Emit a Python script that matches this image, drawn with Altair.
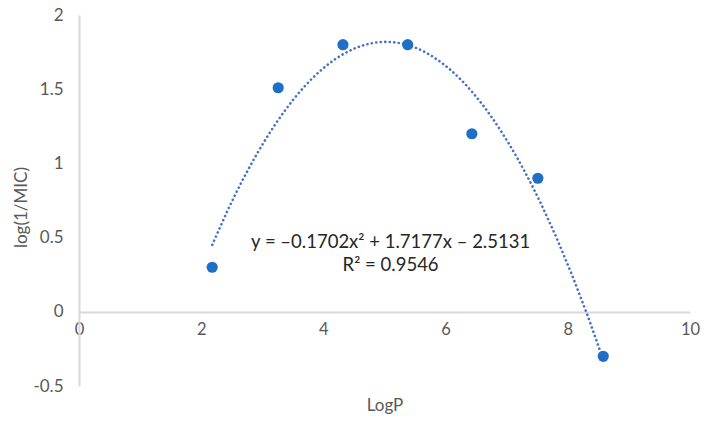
import altair as alt
import pandas as pd

logp = [2.18, 3.26, 4.32, 5.38, 6.43, 7.51, 8.58]
log_inv_mic = [0.30, 1.51, 1.80, 1.80, 1.20, 0.90, -0.30]

eq_lines = ["y = –0.1702x² + 1.7177x – 2.5131", "R² = 0.9546"]
eq_x = [5.1, 5.1]
eq_y = [0.47, 0.315]

df = pd.DataFrame({"LogP": logp, "val": log_inv_mic})
eq_df = pd.DataFrame({"t": eq_lines, "x": eq_x, "y": eq_y})

FONT = "Lato"
xs = alt.Scale(domain=[0, 10], nice=False)
ys = alt.Scale(domain=[-0.5, 2], nice=False)

base = alt.Chart(df)

points = base.mark_circle(size=125, opacity=1, color="#1f6fc6").encode(
    x=alt.X("LogP:Q", scale=xs,
            axis=alt.Axis(title="LogP", values=[0, 2, 4, 6, 8, 10], offset=-74,
                          ticks=False, grid=False, domainColor="#d9d9d9", domainWidth=2,
                          labelColor="#595959", labelFontSize=16.5, labelFont=FONT,
                          labelPadding=9, labelFlush=False, titleFont=FONT, titleFontSize=17,
                          titleFontWeight="normal", titleColor="#595959",
                          titlePadding=60, format="~g")),
    y=alt.Y("val:Q", scale=ys,
            axis=alt.Axis(title="log(1/MIC)", values=[-0.5, 0, 0.5, 1, 1.5, 2],
                          ticks=False, grid=False, domainColor="#d9d9d9", domainWidth=2,
                          labelColor="#595959", labelFontSize=17, labelFont=FONT,
                          labelPadding=16, labelFlush=False, titleFont=FONT, titleFontSize=17,
                          titleFontWeight="normal", titleColor="#595959",
                          titlePadding=2, titleY=192, format="~g",
                          labelExpr="replace(datum.label, '−', '-')")),
)

trend = base.transform_regression("LogP", "val", method="poly", order=2).mark_line(
    color="#4472c4", strokeWidth=2.6, strokeDash=[0.1, 4.4], strokeCap="round"
).encode(
    x=alt.X("LogP:Q", scale=xs),
    y=alt.Y("val:Q", scale=ys),
)

eq = alt.Chart(eq_df).mark_text(font=FONT, fontSize=18.5, color="#262626", align="center").encode(
    x=alt.X("x:Q", scale=xs),
    y=alt.Y("y:Q", scale=ys),
    text="t:N",
)

chart = alt.layer(trend, points, eq).properties(
    width=611, height=371,
    autosize=alt.AutoSizeParams(type="none"),
    padding={"left": 71, "top": 7, "right": 10, "bottom": 29},
).configure_view(stroke=None)

chart.save("out.html", embed_options={"renderer": "svg", "actions": False})
